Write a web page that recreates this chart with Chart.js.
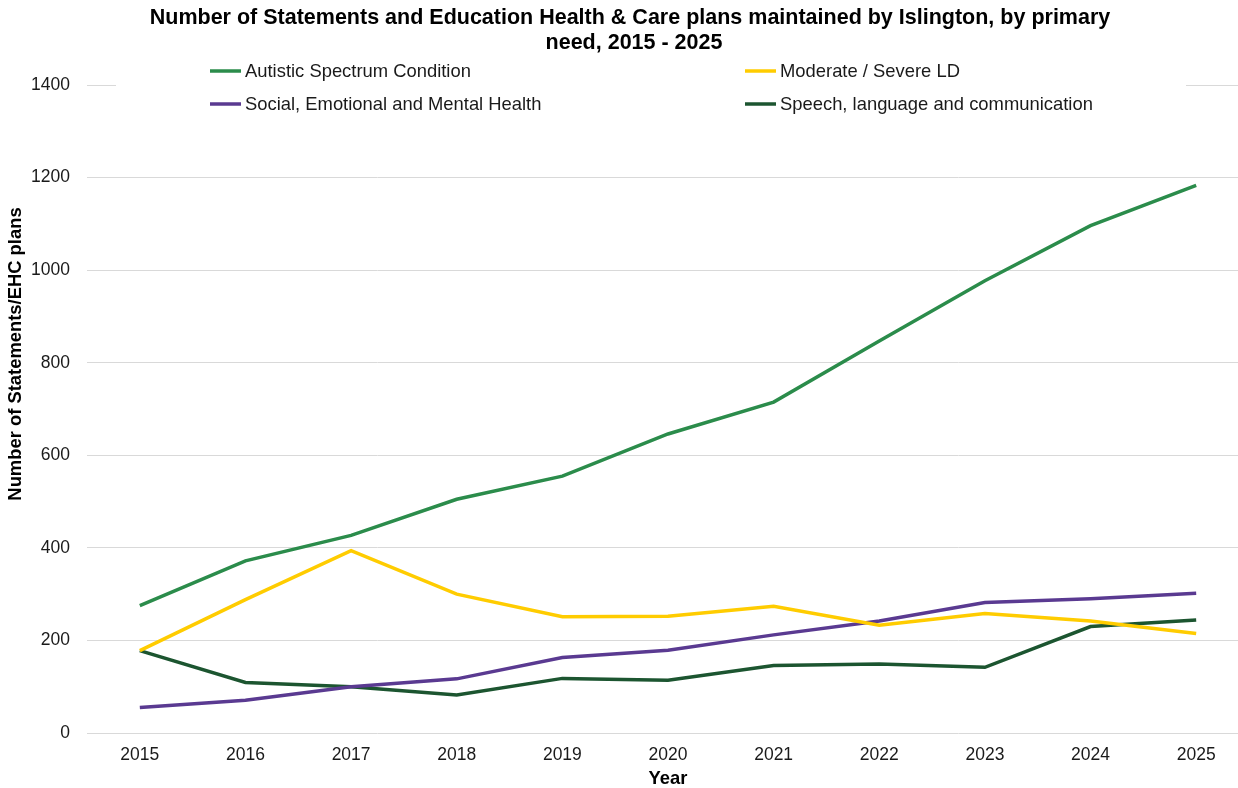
<!DOCTYPE html>
<html>
<head>
<meta charset="utf-8">
<script src="https://cdn.jsdelivr.net/npm/chart.js@4.4.0/dist/chart.umd.min.js"></script>
<style>
  html, body { margin: 0; padding: 0; background: #fff; overflow: hidden; }
  #wrap { width: 1238px; height: 788px; overflow: hidden; position: relative; }
  #box { width: 1262px; height: 788px; }
</style>
</head>
<body>
<div id="wrap"><div id="box"><canvas id="chart"></canvas></div></div>
<script>
const years = ['2015', '2016', '2017', '2018', '2019', '2020', '2021', '2022', '2023', '2024', '2025'];
const yTicks = [0, 200, 400, 600, 800, 1000, 1200, 1400];

const autistic = [275, 372, 427, 505, 555, 646, 715, 847, 977, 1096, 1183];
const moderateSevere = [178, 288, 394, 300, 251, 252, 274, 233, 258, 242, 215];
const semh = [55, 71, 100, 117, 163, 179, 212, 242, 282, 290, 302];
const speech = [178, 109, 100, 82, 118, 114, 146, 149, 142, 230, 244];

const seriesNames = ['Autistic Spectrum Condition', 'Moderate / Severe LD', 'Social, Emotional and Mental Health', 'Speech, language and communication'];
const seriesColours = ['#2b8c4b', '#ffcc00', '#5a3a91', '#1c5530'];

const titleLines = ['Number of Statements and Education Health & Care plans maintained by Islington, by primary', 'need, 2015 - 2025'];
const yTitle = 'Number of Statements/EHC plans';
const xTitle = 'Year';

const FONT = '"Liberation Sans", Arial, sans-serif';

// title, axis titles and the 2x2 legend are drawn by hand
const extras = {
  id: 'extras',
  beforeDatasetsDraw(chart) {
    const ctx = chart.ctx;
    ctx.save();
    ctx.fillStyle = '#fff';
    ctx.fillRect(116, 52, 1070, 68);
    const spots = [[210, 71], [745, 71], [210, 104], [745, 104]];
    ctx.font = '18.4px ' + FONT;
    ctx.textBaseline = 'middle';
    spots.forEach(([x, y], i) => {
      ctx.strokeStyle = seriesColours[i];
      ctx.lineWidth = 3.5;
      ctx.beginPath();
      ctx.moveTo(x, y);
      ctx.lineTo(x + 31, y);
      ctx.stroke();
      ctx.fillStyle = '#1a1a1a';
      ctx.textAlign = 'left';
      ctx.fillText(seriesNames[i], x + 35, y + 1);
    });
    ctx.restore();
  },
  afterDraw(chart) {
    const ctx = chart.ctx;
    ctx.save();
    ctx.fillStyle = '#000';
    ctx.font = 'bold 21.5px ' + FONT;
    ctx.textAlign = 'center';
    ctx.textBaseline = 'middle';
    ctx.fillText(titleLines[0], 630, 18);
    ctx.fillText(titleLines[1], 634, 43);

    ctx.font = 'bold 18.4px ' + FONT;
    const a = chart.chartArea;
    ctx.fillText(xTitle, (a.left + a.right) / 2, 779);

    ctx.translate(16, 354);
    ctx.rotate(-Math.PI / 2);
    ctx.fillText(yTitle, 0, 0);
    ctx.restore();
  }
};

const datasets = [autistic, moderateSevere, semh, speech].map((vals, i) => ({
  label: seriesNames[i],
  data: vals,
  borderColor: seriesColours[i],
  backgroundColor: seriesColours[i],
  borderWidth: 3.5,
  pointRadius: 0,
  tension: 0,
  fill: false
}));

new Chart(document.getElementById('chart'), {
  type: 'line',
  data: { labels: years, datasets: datasets },
  options: {
    responsive: true,
    maintainAspectRatio: false,
    animation: false,
    layout: { padding: { top: 85, right: 13, bottom: 0, left: 0 } },
    plugins: {
      legend: { display: false },
      title: { display: false },
      tooltip: { enabled: false }
    },
    scales: {
      x: {
        offset: true,
        grid: { display: false, drawTicks: false },
        border: { display: false },
        ticks: { color: '#1a1a1a', font: { family: FONT, size: 17.5 }, padding: 12, maxRotation: 0 },
        afterFit(scale) { scale.height = 55; }
      },
      y: {
        min: 0,
        max: 1400,
        afterBuildTicks(scale) { scale.ticks = yTicks.map(v => ({ value: v })); },
        grid: { color: '#d9d9d9', lineWidth: 1, drawTicks: false },
        border: { display: false },
        ticks: { color: '#1a1a1a', font: { family: FONT, size: 17.5 }, padding: 17, callback: v => String(v) },
        afterFit(scale) { scale.width = 87; }
      }
    }
  },
  plugins: [extras]
});
</script>
</body>
</html>
